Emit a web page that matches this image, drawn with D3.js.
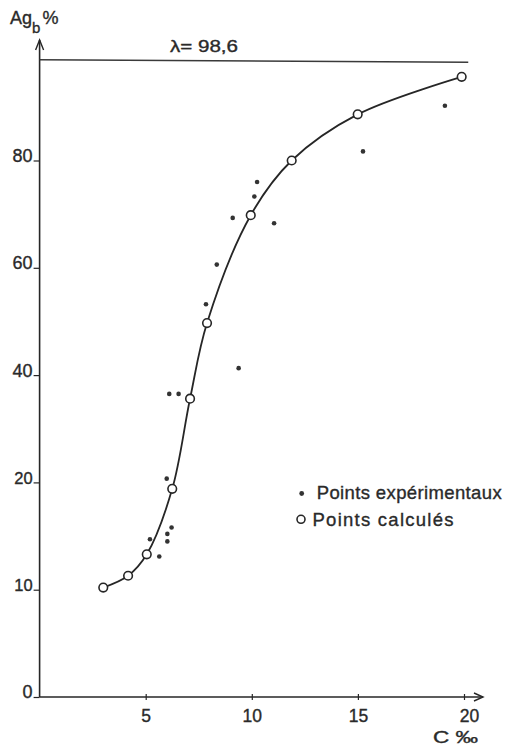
<!DOCTYPE html>
<html><head><meta charset="utf-8">
<script src="https://cdn.jsdelivr.net/npm/d3@7"></script>
<style>
html,body{margin:0;padding:0;background:#fff;}
svg{display:block;}
text{font-family:"Liberation Sans",Arial,sans-serif;fill:#2a2a2a;stroke:#2a2a2a;stroke-width:0.35px;}
</style></head>
<body>
<svg id="chart" width="511" height="747"></svg>
<script>
// ---- data ----
const calcX = [3.0, 4.17, 5.05, 6.25, 7.09, 7.89, 9.95, 11.88, 14.99, 19.89];
const calcY = [10.2, 11.3, 13.3, 19.4, 35.6, 49.7, 69.8, 80.0, 88.6, 95.6];
const expX = [5.2, 5.64, 5.99, 6.02, 6.02, 6.22, 6.11, 6.55, 7.84, 8.35, 9.38, 9.1, 10.12, 10.25, 11.05, 15.24, 19.1];
const expY = [14.7, 13.1, 20.7, 14.5, 15.2, 15.8, 36.5, 36.5, 53.2, 60.6, 41.3, 69.3, 73.3, 76.0, 68.3, 81.7, 90.2];
const xTicks = [5, 10, 15, 20];
const yTicks = [0, 10, 20, 40, 60, 80];
const lambda = 98.6;
const lambdaLabel = "λ= 98,6";
const xTitle = "C ‰";
const legendLabels = ["Points expérimentaux", "Points calculés"];

// ---- layout ----
const left = 39.6, right = 464, bottom = 697, step = 107.3;
const ink = "#262626";
const font = "Liberation Sans, Arial, sans-serif";
const svg = d3.select("#chart");

const x = d3.scaleLinear().domain([0, 20]).range([left, right]);
// y axis: 0,10,20 evenly spaced, then 20 units per step above 20
const y = d3.scaleLinear().domain([0, 10, 20, 100])
  .range([bottom, bottom - step, bottom - 2 * step, bottom - 6 * step]);

// axes lines with arrows
const g = svg.append("g");
g.append("line").attr("x1", x(0)).attr("x2", 483).attr("y1", y(0)).attr("y2", y(0))
  .attr("stroke", ink).attr("stroke-width", 1.6);
g.append("path").attr("d", `M${483-9},${y(0)-4} L483,${y(0)} L${483-9},${y(0)+4}`)
  .attr("fill", "none").attr("stroke", ink).attr("stroke-width", 1.4);
g.append("line").attr("x1", x(0)).attr("x2", x(0)).attr("y1", y(0)).attr("y2", 40)
  .attr("stroke", ink).attr("stroke-width", 1.6);
g.append("path").attr("d", `M${x(0)-4},${50} L${x(0)},40 L${x(0)+4},50`)
  .attr("fill", "none").attr("stroke", ink).attr("stroke-width", 1.4);

// x axis ticks
const xa = svg.append("g").attr("transform", `translate(0,${y(0)})`)
  .call(d3.axisBottom(x).tickValues(xTicks).tickSize(4).tickPadding(9).tickFormat(d3.format("d")));
xa.select(".domain").remove();
xa.selectAll(".tick line").attr("y1", -3).attr("y2", 3).attr("stroke", ink).attr("stroke-width", 1.2);
xa.selectAll(".tick text").attr("font-size", 17.5).attr("font-family", font)
  .attr("fill", ink).attr("dx", (d) => d === 20 ? 5 : 0);

// y axis ticks
const ya = svg.append("g").attr("transform", `translate(${x(0)},0)`)
  .call(d3.axisLeft(y).tickValues(yTicks).tickSize(6).tickPadding(1).tickFormat(d3.format("d")));
ya.select(".domain").remove();
ya.selectAll(".tick line").attr("stroke", ink).attr("stroke-width", 1.2);
ya.selectAll(".tick text").attr("font-size", (d) => (d === 10 || d === 20) ? 16.5 : 18).attr("font-family", font)
  .attr("fill", (d) => (d === 10 || d === 20) ? "#555" : ink).attr("dy", "0.05em");

// lambda line
svg.append("line").attr("x1", x(0)).attr("x2", x(20.2)).attr("y1", y(lambda) - 1).attr("y2", y(lambda) + 1.5)
  .attr("stroke", "#3a3a3a").attr("stroke-width", 1.5);
svg.append("text").attr("x", 170).attr("y", 52).attr("font-size", 16).attr("textLength", 68)
  .attr("lengthAdjust", "spacingAndGlyphs").text(lambdaLabel);

// curve through calculated points
const calc = calcX.map((v, i) => [v, calcY[i]]);
const line = d3.line().x(d => x(d[0])).y(d => y(d[1])).curve(d3.curveCatmullRom.alpha(0.5));
svg.append("path").datum(calc).attr("d", line).attr("fill", "none")
  .attr("stroke", ink).attr("stroke-width", 1.8);

// experimental points
const exp = expX.map((v, i) => [v, expY[i]]);
svg.append("g").selectAll("circle").data(exp).join("circle")
  .attr("cx", d => x(d[0])).attr("cy", d => y(d[1])).attr("r", 2.3).attr("fill", "#333");

// calculated points
svg.append("g").selectAll("circle").data(calc).join("circle")
  .attr("cx", d => x(d[0])).attr("cy", d => y(d[1])).attr("r", 4.3)
  .attr("fill", "#fff").attr("stroke", ink).attr("stroke-width", 1.6);

// axis titles
const yt = svg.append("text").attr("x", 10).attr("y", 23.5).attr("font-size", 18);
yt.append("tspan").text("Ag");
yt.append("tspan").attr("font-size", 15).attr("dy", 9).text("b");
yt.append("tspan").attr("dx", 2).attr("dy", -9).text("%");
svg.append("text").attr("x", 433).attr("y", 743).attr("font-size", 16).attr("textLength", 45)
  .attr("lengthAdjust", "spacingAndGlyphs").text(xTitle);

// legend
svg.append("circle").attr("cx", 301.7).attr("cy", 493.5).attr("r", 2.4).attr("fill", "#333");
svg.append("text").attr("x", 316.7).attr("y", 498.5).attr("font-size", 18.5).attr("textLength", 185)
  .attr("lengthAdjust", "spacing").text(legendLabels[0]);
svg.append("circle").attr("cx", 301).attr("cy", 519.3).attr("r", 4)
  .attr("fill", "#fff").attr("stroke", ink).attr("stroke-width", 1.6);
svg.append("text").attr("x", 312.5).attr("y", 526).attr("font-size", 18.5).attr("textLength", 141)
  .attr("lengthAdjust", "spacing").text(legendLabels[1]);
</script>
</body></html>
